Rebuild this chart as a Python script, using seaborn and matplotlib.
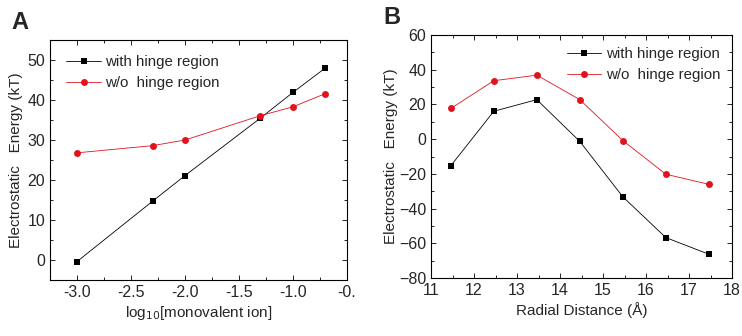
import matplotlib
matplotlib.use('Agg')
import matplotlib.pyplot as plt
import pandas as pd
import seaborn as sns
from matplotlib.ticker import MultipleLocator, FixedLocator

# panel A: energy vs log10 of salt concentration
ion_log = [-3.0, -2.3, -2.0, -1.3, -1.0, -0.7]
ion_with = [-0.4, 14.7, 21.1, 35.5, 41.9, 48.0]
ion_without = [26.8, 28.6, 30.0, 36.1, 38.3, 41.6]

# panel B: energy vs radial distance
radial = [11.46, 12.46, 13.46, 14.46, 15.46, 16.46, 17.46]
rad_with = [-15.3, 16.1, 22.8, -1.3, -33.2, -56.7, -66.3]
rad_without = [17.7, 33.7, 36.9, 22.8, -0.8, -20.2, -26.0]

labels = ['with hinge region', 'w/o  hinge region']
colors = {labels[0]: 'black', labels[1]: '#e0141e'}
markers = {labels[0]: 's', labels[1]: 'o'}

df_a = pd.DataFrame({'x': ion_log * 2, 'y': ion_with + ion_without,
                     'series': [labels[0]] * 6 + [labels[1]] * 6})
df_b = pd.DataFrame({'x': radial * 2, 'y': rad_with + rad_without,
                     'series': [labels[0]] * 7 + [labels[1]] * 7})

sns.set_style('ticks')
plt.rcParams['font.family'] = ['Liberation Sans', 'DejaVu Sans']

fig = plt.figure(figsize=(7.42, 3.36), dpi=100)
ax_a = fig.add_axes([0.0674, 0.1667, 0.400, 0.714])
ax_b = fig.add_axes([0.5809, 0.1726, 0.4057, 0.723])

for ax, df in [(ax_a, df_a), (ax_b, df_b)]:
    sns.lineplot(data=df, x='x', y='y', hue='series', style='series',
                 palette=colors, markers=markers, dashes=False,
                 linewidth=0.6, markersize=5, markeredgewidth=0,
                 ax=ax)
    ax.tick_params(which='both', direction='in', top=True, right=True,
                   labelsize=11.5, color='black', width=0.6)
    ax.tick_params(which='major', length=3.5)
    ax.tick_params(which='minor', length=2)
    for s in ax.spines.values():
        s.set_linewidth(0.8)
        s.set_color('black')

# panel A axes
ax_a.set_xlim(-3.25, -0.5)
ax_a.set_ylim(-5, 55)
ax_a.xaxis.set_major_locator(FixedLocator([-3.0, -2.5, -2.0, -1.5, -1.0, -0.5]))
ax_a.set_xticklabels(['-3.0', '-2.5', '-2.0', '-1.5', '-1.0', '-0.'])
ax_a.xaxis.set_minor_locator(MultipleLocator(0.25))
ax_a.yaxis.set_major_locator(FixedLocator([0, 10, 20, 30, 40, 50]))
ax_a.yaxis.set_minor_locator(MultipleLocator(5))
ax_a.set_xlabel('log$_{10}$[monovalent ion]', fontsize=11, labelpad=3)
ax_a.set_ylabel('Electrostatic   Energy (kT)', fontsize=11, labelpad=3)
ax_a.legend(loc='upper left', frameon=False, fontsize=10.8,
            handlelength=2.3, handletextpad=0.3, labelspacing=0.45,
            borderaxespad=0.3, bbox_to_anchor=(0.02, 0.98))

# panel B axes
ax_b.set_xlim(11, 18)
ax_b.set_ylim(-80, 60)
ax_b.xaxis.set_major_locator(MultipleLocator(1))
ax_b.xaxis.set_minor_locator(MultipleLocator(0.5))
ax_b.yaxis.set_major_locator(MultipleLocator(20))
ax_b.yaxis.set_minor_locator(MultipleLocator(10))
ax_b.set_xlabel('Radial Distance (Å)', fontsize=11, labelpad=3)
ax_b.set_ylabel('Electrostatic   Energy (kT)', fontsize=11, labelpad=1)
ax_b.legend(loc='upper right', frameon=False, fontsize=10.8,
            handlelength=2.3, handletextpad=0.3, labelspacing=0.45,
            borderaxespad=0.4)

# panel letters
fig.text(0.016, 0.915, 'A', fontsize=17, fontweight='bold')
fig.text(0.517, 0.93, 'B', fontsize=17, fontweight='bold')

fig.savefig('out.png', dpi=100, facecolor='white')
